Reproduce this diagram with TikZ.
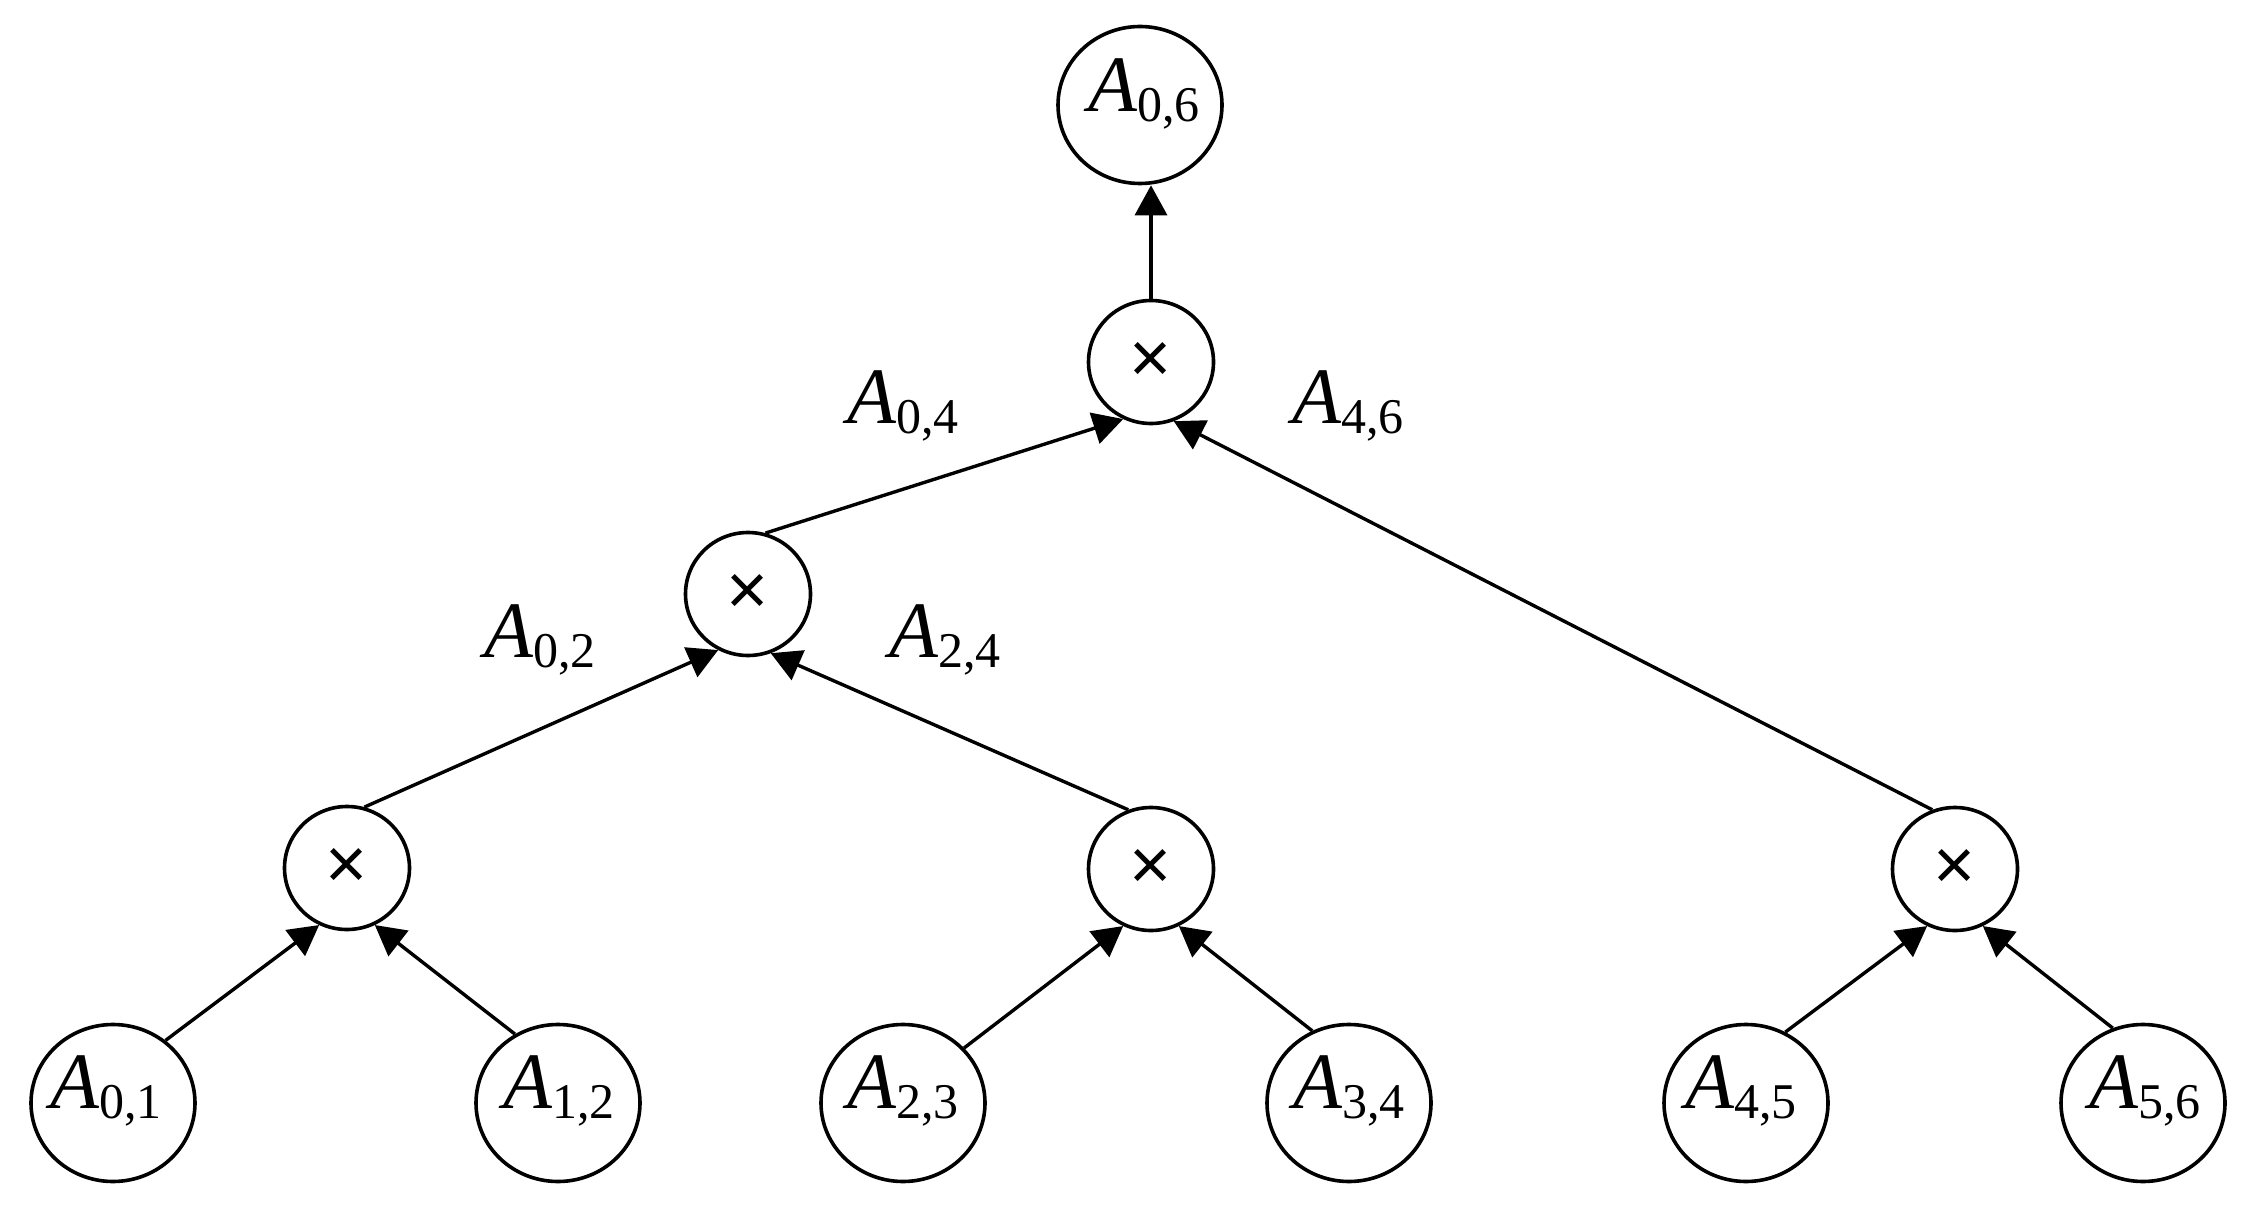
\documentclass[tikz,border=0pt]{standalone}
\usepackage{fontspec}
\setmainfont{Liberation Serif}
\newfontfamily\symfont{Liberation Sans}
\usetikzlibrary{arrows.meta,shapes.geometric}
\newcommand\Msub[2]{{\fontsize{40}{40}\selectfont\itshape A}\raisebox{-5pt}{\fontsize{25}{25}\selectfont #1,#2}}
\begin{document}
\begin{tikzpicture}[x=0.5pt,y=-0.5pt,
  leaf/.style={draw,ellipse,line width=1.8pt,minimum width=82pt,minimum height=78.5pt,inner sep=0pt},
  mult/.style={draw,ellipse,line width=1.8pt,minimum width=62.5pt,minimum height=61.5pt,inner sep=0pt,font=\symfont\fontsize{36}{36}\selectfont},
  txt/.style={anchor=base,inner sep=0pt},
  edge/.style={line width=1.7pt,-{Triangle[length=15pt,width=16pt]}}]
\useasboundingbox (0,0) rectangle (2244,1209);
% nodes
\node[leaf] (a06) at (1140,105) {};
\node[txt] (a06t) at (1144,112) {\Msub{0}{6}};
\node[mult] (t1) at (1151,362) {×};
\node[mult] (t2) at (748,594) {×};
\node[mult] (t3) at (347,868) {×};
\node[mult] (t4) at (1151,869) {×};
\node[mult] (t5) at (1955,869) {×};
\node[leaf] (a01) at (113,1103) {};
\node[leaf] (a12) at (558,1103) {};
\node[leaf] (a23) at (903,1103) {};
\node[leaf] (a34) at (1349,1103) {};
\node[leaf] (a45) at (1746,1103) {};
\node[leaf] (a56) at (2143,1103) {};
\node[txt] (a01t) at (106,1108) {\Msub{0}{1}};
\node[txt] (a12t) at (559,1108) {\Msub{1}{2}};
\node[txt] (a23t) at (903,1108) {\Msub{2}{3}};
\node[txt] (a34t) at (1349,1108) {\Msub{3}{4}};
\node[txt] (a45t) at (1741,1108) {\Msub{4}{5}};
\node[txt] (a56t) at (2145,1108) {\Msub{5}{6}};
% edge labels
\node[txt] (l04) at (903,423) {\Msub{0}{4}};
\node[txt] (l46) at (1348,423) {\Msub{4}{6}};
\node[txt] (l02) at (540,657) {\Msub{0}{2}};
\node[txt] (l24) at (945,657) {\Msub{2}{4}};
% edges
\draw[edge] (a01.50) -- (t3.244);
\draw[edge] (a12.122) -- (t3.296);
\draw[edge] (a23.42) -- (t4.244);
\draw[edge] (a34.117) -- (t4.296);
\draw[edge] (a45.61) -- (t5.244);
\draw[edge] (a56.112) -- (t5.296);
\draw[edge] (t3.74) -- (t2.242);
\draw[edge] (t4.111) -- (t2.291);
\draw[edge] (t2.74) -- (t1.244);
\draw[edge] (t5.111) -- (t1.291);
\draw[edge] (t1.north) -- (t1.north |- a06.south);
\end{tikzpicture}
\end{document}
